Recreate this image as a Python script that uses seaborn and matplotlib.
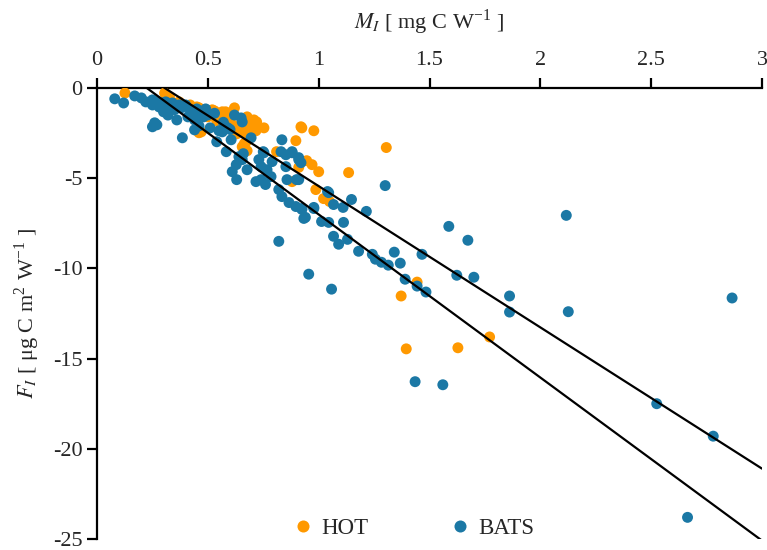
import numpy as np
import pandas as pd
import seaborn as sns
import matplotlib.pyplot as plt

# HOT station (M_I, F_I)
HOT_M = [0.126, 0.305, 0.327, 0.37, 0.42, 0.45, 0.46, 0.48, 0.50, 0.46, 0.52, 0.54,
         0.55, 0.565, 0.583, 0.596, 0.61, 0.628, 0.64, 0.664, 0.677, 0.70, 0.708, 0.72,
         0.753, 0.655, 0.673, 0.924, 0.978, 0.897, 0.81, 0.946, 0.97, 1.0, 0.91, 1.135,
         0.88, 0.987, 1.022, 1.049, 1.305, 1.444, 1.372, 1.771, 1.395, 1.628, 0.54, 0.605,
         0.63, 0.677, 0.717, 0.664, 0.677, 0.47, 0.92, 0.58, 0.53, 0.62, 0.66, 0.69]
HOT_F = [-0.28, -0.28, -0.5, -0.77, -0.94, -1.05, -1.1, -1.3, -1.6, -2.48, -1.21, -1.38,
         -1.6, -1.32, -1.49, -1.77, -2.04, -2.15, -2.32, -2.43, -2.15, -1.93, -1.77, -1.88,
         -2.21, -3.26, -2.98, -2.21, -2.37, -2.92, -3.53, -4.03, -4.25, -4.64, -4.4, -4.69,
         -5.19, -5.63, -6.13, -6.29, -3.3, -10.76, -11.53, -13.8, -14.46, -14.4, -1.82, -1.99,
         -2.54, -1.6, -2.37, -3.09, -3.48, -2.43, -2.15, -1.32, -1.27, -1.1, -1.9, -2.6]

# BATS station (M_I, F_I)
BATS_M = [0.08, 0.12, 0.17, 0.20, 0.22, 0.25, 0.27, 0.29, 0.31, 0.34, 0.37, 0.40,
          0.25, 0.28, 0.31, 0.30, 0.26, 0.27, 0.25, 0.36, 0.385, 0.41, 0.44, 0.45,
          0.42, 0.49, 0.50, 0.44, 0.51, 0.54, 0.565, 0.59, 0.605, 0.583, 0.65, 0.655,
          0.695, 0.64, 0.655, 0.628, 0.61, 0.63, 0.677, 0.717, 0.74, 0.76, 0.785, 0.767,
          0.74, 0.73, 0.753, 0.79, 0.834, 0.852, 0.88, 0.91, 0.852, 0.857, 0.90, 0.82,
          0.834, 0.866, 0.897, 0.924, 0.94, 0.978, 1.045, 1.067, 1.11, 1.148, 1.215, 1.013,
          1.045, 1.112, 1.067, 1.09, 1.13, 1.18, 1.242, 1.256, 1.283, 1.314, 1.368, 1.341,
          0.82, 0.933, 0.924, 0.978, 0.91, 0.91, 1.04, 1.30, 0.955, 1.058, 1.466, 1.39,
          1.444, 1.484, 1.435, 1.56, 1.587, 1.673, 1.623, 1.70, 1.861, 1.861, 2.117, 2.126,
          2.525, 2.78, 2.664, 2.865, 0.33, 0.35, 0.38, 0.32, 0.46, 0.48, 0.53, 0.57,
          0.62, 0.60, 0.45, 0.49, 0.46, 0.55, 0.58, 0.66, 0.75, 0.83, 0.88, 0.92]
BATS_F = [-0.6, -0.83, -0.44, -0.55, -0.77, -0.66, -0.77, -0.83, -0.77, -0.83, -0.94, -0.94,
          -0.94, -1.05, -1.1, -1.32, -1.93, -2.04, -2.15, -1.77, -2.76, -1.6, -1.77, -1.38,
          -1.21, -1.21, -1.49, -2.32, -2.21, -2.98, -2.43, -2.21, -2.87, -3.53, -1.66, -1.88,
          -2.76, -3.81, -3.97, -4.25, -4.64, -5.08, -4.53, -5.19, -5.08, -5.35, -4.91, -4.53,
          -4.36, -3.97, -3.59, -4.08, -2.87, -3.7, -3.59, -3.86, -4.36, -5.08, -5.08, -5.63,
          -6.02, -6.35, -6.57, -6.73, -7.17, -6.62, -5.8, -6.46, -6.62, -6.18, -6.84, -7.4,
          -7.45, -7.45, -8.22, -8.66, -8.39, -9.05, -9.22, -9.49, -9.66, -9.82, -9.71, -9.1,
          -8.5, -7.23, -6.68, -6.68, -5.08, -3.97, -5.74, -5.41, -10.32, -11.15, -9.22, -10.6,
          -10.98, -11.31, -16.28, -16.45, -7.67, -8.44, -10.38, -10.49, -11.53, -12.42, -7.06, -12.4,
          -17.5, -19.3, -23.8, -11.64, -1.0, -1.2, -1.1, -1.5, -1.3, -1.6, -1.4, -1.9,
          -1.5, -2.3, -1.16, -1.16, -2.1, -2.37, -2.15, -3.64, -3.53, -3.53, -3.53, -4.14]

# regression lines F = slope * M + intercept
LINE_SLOPES = [-7.83, -9.04]
LINE_INTERCEPTS = [2.39, 2.03]

SITES = ["HOT", "BATS"]
COLORS = {"HOT": "#ff9900", "BATS": "#1b78a5"}

df = pd.concat([
    pd.DataFrame({"M": HOT_M, "F": HOT_F, "site": "HOT"}),
    pd.DataFrame({"M": BATS_M, "F": BATS_F, "site": "BATS"}),
], ignore_index=True)

sns.set_style("ticks")
plt.rcParams["font.family"] = ["Liberation Serif", "DejaVu Serif"]
plt.rcParams["mathtext.fontset"] = "stix"
plt.rcParams["axes.unicode_minus"] = False

fig = plt.figure(figsize=(7.67, 5.5), dpi=100)
ax = fig.add_axes([0.1265, 0.0200, 0.8670, 0.8200])

sns.scatterplot(data=df, x="M", y="F", hue="site", hue_order=SITES, palette=COLORS,
                s=62, linewidth=0, ax=ax, zorder=3)

xs = np.linspace(0, 3, 100)
for k, b in zip(LINE_SLOPES, LINE_INTERCEPTS):
    ax.plot(xs, k * xs + b, color="black", lw=1.6, zorder=4)

ax.set_xlim(0, 3)
ax.set_ylim(-25, 0)
ax.set_xticks([0, 0.5, 1, 1.5, 2, 2.5, 3])
ax.set_xticklabels(["0", "0.5", "1", "1.5", "2", "2.5", "3"])
ax.set_yticks([0, -5, -10, -15, -20, -25])
ax.xaxis.tick_top()
ax.xaxis.set_label_position("top")
ax.set_xlabel(r"$M_I$ [ mg C W$^{\mathregular{-1}}$ ]", fontsize=16, labelpad=16)
ax.set_ylabel(r"$F_I$ [ μg C m$^{\mathregular{2}}$ W$^{\mathregular{-1}}$ ]", fontsize=16, labelpad=8)
ax.tick_params(axis="both", direction="out", length=7, width=1.6, labelsize=16, color="black")
ax.tick_params(axis="x", pad=6)
for side in ["right", "bottom"]:
    ax.spines[side].set_visible(False)
for side in ["top", "left"]:
    ax.spines[side].set_linewidth(1.6)
    ax.spines[side].set_color("black")

ax.legend(loc="lower center", bbox_to_anchor=(0.47, -0.045), ncol=2, frameon=False,
          fontsize=16.5, columnspacing=3.2, handletextpad=0.0, handlelength=1.6,
          markerscale=1.1)

fig.savefig("out.png", dpi=100)
